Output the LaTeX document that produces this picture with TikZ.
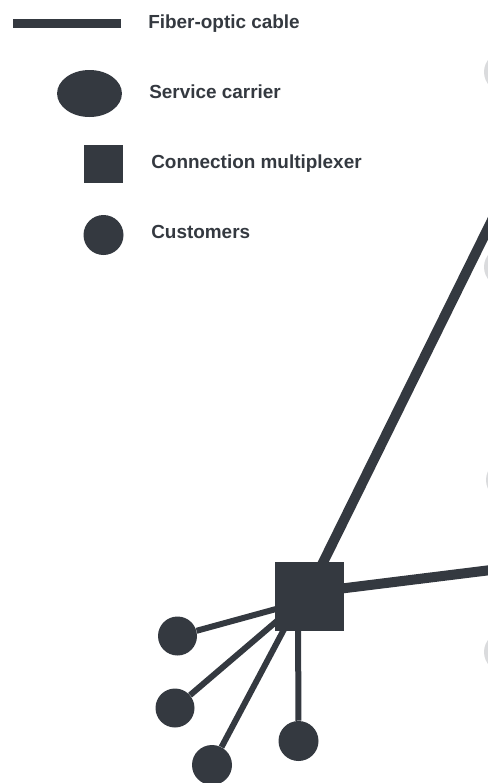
\documentclass[tikz,border=0pt]{standalone}
\usepackage{fontspec}
\setmainfont{Liberation Sans}
\usetikzlibrary{backgrounds}
\definecolor{ink}{RGB}{52,57,64}
\definecolor{ghost}{RGB}{218,219,221}
\begin{document}
\begin{tikzpicture}[x=0.75pt,y=-0.75pt,
  cable/.style={draw=ink,line width=7.5pt},
  drop/.style={draw=ink,line width=4.5pt},
  muxbox/.style={fill=ink,rectangle,inner sep=0pt},
  customer/.style={fill=ink,circle,inner sep=0pt,minimum size=30pt},
  legendtext/.style={anchor=base west,inner sep=0pt,text=ink,font=\bfseries\fontsize{14.2}{16}\selectfont},
  edgeblob/.style={fill=ghost,circle,inner sep=0pt,minimum size=30pt}]
\useasboundingbox (0,0) rectangle (488,783);
\clip (0,0) rectangle (488,783);

% legend
\coordinate (lgA) at (13,23.5);
\coordinate (lgB) at (121,23.5);
\draw[draw=ink,line width=6.8pt] (lgA) -- (lgB);
\node[legendtext] (tcable) at (148,28) {Fiber-optic cable};

\node[fill=ink,circle,inner sep=0pt,minimum size=35.25pt,xscale=1.38] (lcarrier) at (89.5,93.5) {};
\node[legendtext] (tcarrier) at (149,98) {Service carrier};

\node[muxbox,minimum width=29.25pt,minimum height=28.5pt] (lmux) at (103.5,164) {};
\node[legendtext] (tmux) at (151,168) {Connection multiplexer};

\node[customer] (lcust) at (103.5,235) {};
\node[legendtext] (tcust) at (151,238) {Customers};

% faint shapes bleeding in at the right edge
\node[edgeblob] (g1) at (504,72) {};
\node[edgeblob] (g2) at (504,267) {};
\node[edgeblob] (g3) at (506,480) {};
\node[edgeblob] (g4) at (504,652) {};

% network
\node[muxbox,minimum size=51.75pt] (mux) at (309.5,596.5) {};
\coordinate (hub) at (298,603);
\coordinate (upfoot) at (306,597);
\coordinate (up) at (498,208);
\coordinate (eastfoot) at (309.5,592.5);
\coordinate (east) at (495,569.5);

\node[customer,minimum size=29.25pt] (c1) at (177.5,636) {};
\node[customer,minimum size=29.25pt] (c2) at (175,708) {};
\node[customer] (c3) at (212,765) {};
\node[customer] (c4) at (298.5,741) {};

\begin{pgfonlayer}{background}
  \draw[cable] (upfoot) -- (up);
  \draw[cable] (eastfoot) -- (east);
  \draw[drop] (hub) -- (c1);
  \draw[drop] (hub) -- (c2);
  \draw[drop] (hub) -- (c3);
  \draw[drop] (hub) -- (c4);
\end{pgfonlayer}
\end{tikzpicture}
\end{document}
